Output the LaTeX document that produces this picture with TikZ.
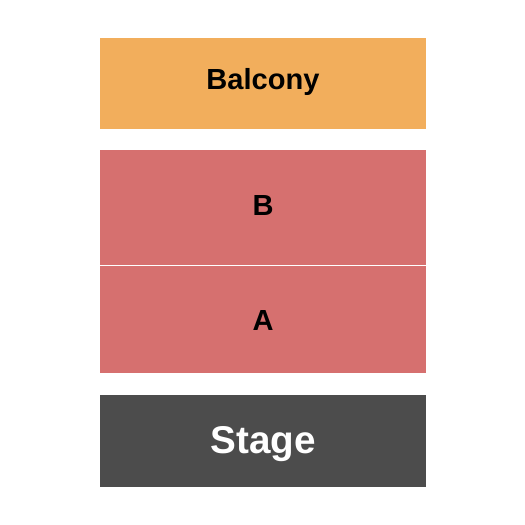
\documentclass[tikz,border=0pt]{standalone}
\usepackage{fontspec}
\setmainfont{Liberation Sans}
\usepackage{tikz}

\definecolor{balc}{HTML}{F2AE5C}
\definecolor{sect}{HTML}{D6706F}
\definecolor{stg}{HTML}{4C4C4C}

\begin{document}
\begin{tikzpicture} [x=0.75pt, y=-0.75pt, every node/.style={rectangle,inner sep=0pt,font=\bfseries}]
\useasboundingbox[fill=white] (0,0) rectangle (525,525);

\fill[balc] (100,38) rectangle (426,129);
\fill[sect] (100,150) rectangle (426,265);
\fill[sect] (100,266) rectangle (426,373);
\fill[stg] (100,395) rectangle (426,487);

\node (balcony) at (263,82){\fontsize{21.8}{24}\selectfont Balcony};
\node (secB) at (263,205.5){\fontsize{21.8}{24}\selectfont B};
\node (secA) at (263,320.5){\fontsize{21.8}{24}\selectfont A};
\node[text=white] (stage) at (263,444){\fontsize{29}{32}\selectfont Stage};

\end{tikzpicture}
\end{document}
